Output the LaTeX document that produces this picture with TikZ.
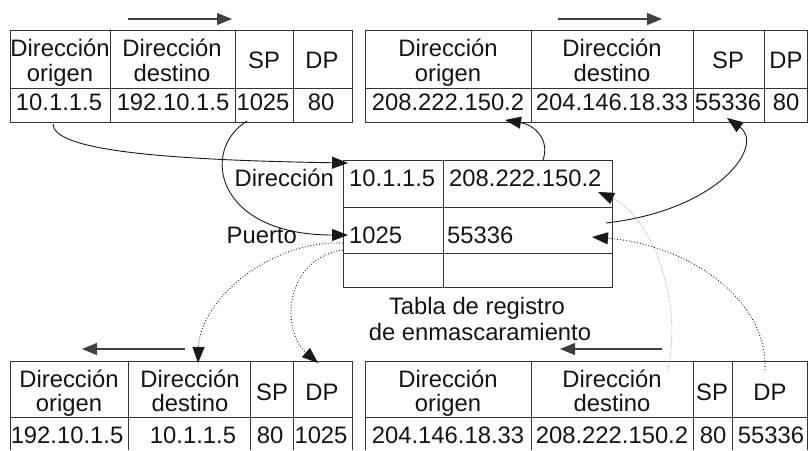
\documentclass[tikz,border=0pt]{standalone}
\usepackage{fontspec}
\setmainfont{Liberation Sans}
\usetikzlibrary{arrows.meta}
\newcommand\tfont{\fontsize{23.8}{26}\selectfont}
\begin{document}
\begin{tikzpicture}[x=1pt,y=-1pt,
  txt/.style={inner sep=0pt, anchor=base, font=\tfont, text=black!92},
  grid/.style={draw=black!80, line width=1pt},
  con/.style={draw=black!90, line width=0.9pt, -{Triangle[length=16pt,width=12pt]}},
  dircon/.style={draw=black!75, line width=1.1pt, -{Triangle[length=15pt,width=12pt]}},
  dotcon/.style={con, dotted},
  graycon/.style={draw=black!45, line width=0.6pt, densely dotted, -{Triangle[length=16pt,width=12pt,color=black!90,line width=0.6pt]}}]
\useasboundingbox (0,0) rectangle (808,450);

% ---------- top-left table ----------
\draw[grid] (10,30) rectangle (352,122);
\draw[grid] (10,88) -- (352,88);
\foreach \x in {110,235,293} \draw[grid] (\x,30) -- (\x,122);
\node[txt] (tlh1a) at (60,56) {Dirección};
\node[txt] (tlh1b) at (60,81) {origen};
\node[txt] (tlh2a) at (172,56) {Dirección};
\node[txt] (tlh2b) at (172,81) {destino};
\node[txt] (tlh3) at (264,68) {SP};
\node[txt] (tlh4) at (322,68) {DP};
\node[txt] (tld1) at (59,110) {10.1.1.5};
\node[txt] (tld2) at (173,110) {192.10.1.5};
\node[txt] (tld3) at (263,110) {1025};
\node[txt] (tld4) at (321,110) {80};

% ---------- top-right table ----------
\draw[grid] (365,30) rectangle (807.5,122);
\draw[grid] (365,88) -- (807.5,88);
\foreach \x in {531,693,764} \draw[grid] (\x,30) -- (\x,122);
\node[txt] (trh1a) at (448,56) {Dirección};
\node[txt] (trh1b) at (448,81) {origen};
\node[txt] (trh2a) at (612,56) {Dirección};
\node[txt] (trh2b) at (612,81) {destino};
\node[txt] (trh3) at (728,68) {SP};
\node[txt] (trh4) at (786,68) {DP};
\node[txt] (trd1) at (448,110) {208.222.150.2};
\node[txt] (trd2) at (612,110) {204.146.18.33};
\node[txt] (trd3) at (728,110) {55336};
\node[txt] (trd4) at (786,110) {80};

% ---------- middle table ----------
\draw[grid] (343,160) rectangle (612,287);
\draw[grid] (343,207) -- (612,207);
\draw[grid] (343,253) -- (612,253);
\draw[grid] (443,160) -- (443,287);
\node[txt, anchor=base west] (m11) at (349,186) {10.1.1.5};
\node[txt, anchor=base west] (m12) at (449,186) {208.222.150.2};
\node[txt, anchor=base west] (m21) at (349,243) {1025};
\node[txt, anchor=base west] (m22) at (447,243) {55336};
\node[txt, anchor=base east] (ldir) at (334,186) {Dirección};
\node[txt, anchor=base east] (lpto) at (297,243) {Puerto};
\node[txt] (cap1) at (477,314) {Tabla de registro};
\node[txt] (cap2) at (480,340) {de enmascaramiento};

% ---------- bottom-left table ----------
\draw[grid] (10,450) -- (10,361) -- (352,361) -- (352,450);
\draw[grid] (10,417) -- (352,417);
\foreach \x in {128,250,293} \draw[grid] (\x,361) -- (\x,450);
\node[txt] (blh1a) at (69,387) {Dirección};
\node[txt] (blh1b) at (69,411) {origen};
\node[txt] (blh2a) at (190,387) {Dirección};
\node[txt] (blh2b) at (190,411) {destino};
\node[txt] (blh3) at (272,400) {SP};
\node[txt] (blh4) at (322,400) {DP};
\node[txt] (bld1) at (67,443) {192.10.1.5};
\node[txt] (bld2) at (193,443) {10.1.1.5};
\node[txt] (bld3) at (270,443) {80};
\node[txt] (bld4) at (321,443) {1025};

% ---------- bottom-right table ----------
\draw[grid] (365,450) -- (365,361) -- (807.5,361) -- (807.5,450);
\draw[grid] (365,417) -- (807.5,417);
\foreach \x in {531,693,732} \draw[grid] (\x,361) -- (\x,450);
\node[txt] (brh1a) at (448,387) {Dirección};
\node[txt] (brh1b) at (448,411) {origen};
\node[txt] (brh2a) at (612,387) {Dirección};
\node[txt] (brh2b) at (612,411) {destino};
\node[txt] (brh3) at (712,400) {SP};
\node[txt] (brh4) at (770,400) {DP};
\node[txt] (brd1) at (448,443) {204.146.18.33};
\node[txt] (brd2) at (612,443) {208.222.150.2};
\node[txt] (brd3) at (713,443) {80};
\node[txt] (brd4) at (771,443) {55336};

% ---------- direction arrows ----------
\coordinate (a1s) at (128,19); \coordinate (a1e) at (232,19);
\coordinate (a2s) at (558,19); \coordinate (a2e) at (662,19);
\coordinate (a3s) at (185,349); \coordinate (a3e) at (82,349);
\coordinate (a4s) at (662,349); \coordinate (a4e) at (560,349);
\draw[dircon] (a1s) -- (a1e);
\draw[dircon] (a2s) -- (a2e);
\draw[dircon] (a3s) -- (a3e);
\draw[dircon] (a4s) -- (a4e);

% ---------- connectors ----------
\coordinate (c1s) at (53,124);  \coordinate (c1e) at (348,163);
\coordinate (c2s) at (247,121); \coordinate (c2e) at (348,235);
\coordinate (c3s) at (543,160); \coordinate (c3e) at (505,120);
\coordinate (c4s) at (606,223); \coordinate (c4e) at (727,118);
\coordinate (c5s) at (343,243); \coordinate (c5e) at (198,363);
\coordinate (c6s) at (343,250); \coordinate (c6e) at (318,363);
\coordinate (c7s) at (667,373); \coordinate (c7e) at (598,192);
\coordinate (c8s) at (765,370); \coordinate (c8e) at (592,237);

\draw[con] (c1s) .. controls (53,150) and (160,160) .. (c1e);
\draw[con] (c2s) .. controls (200,150) and (215,235) .. (c2e);
\draw[con] (c3s) .. controls (550,140) and (535,125) .. (c3e);
\draw[con] (c4s) .. controls (720,210) and (765,145) .. (c4e);
\draw[dotcon] (c5s) .. controls (270,240) and (200,300) .. (c5e);
\draw[dotcon] (c6s) .. controls (285,258) and (280,330) .. (c6e);
\draw[graycon] (c7s) .. controls (685,300) and (650,215) .. (c7e);
\draw[dotcon] (c8s) .. controls (768,300) and (690,245) .. (c8e);
\end{tikzpicture}
\end{document}
